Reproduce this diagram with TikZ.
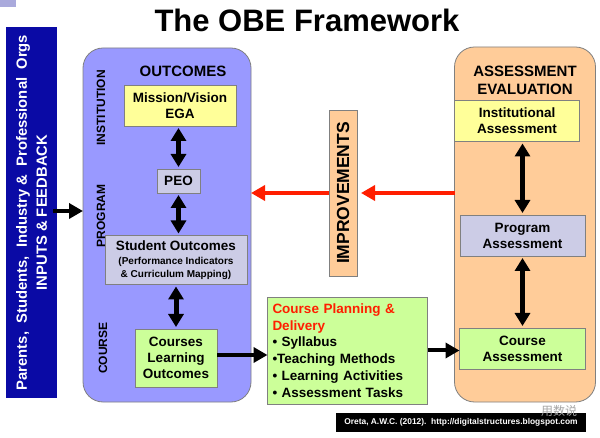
\documentclass[tikz,border=0pt]{standalone}
\usepackage{fontspec}
\setmainfont{Liberation Sans}
\newfontfamily\cjkfont{Noto Sans CJK SC}
\usetikzlibrary{arrows.meta,positioning}

\definecolor{barblue}{RGB}{10,10,165}
\definecolor{outlav}{RGB}{153,153,255}
\definecolor{peach}{RGB}{255,204,153}
\definecolor{paleyellow}{RGB}{255,255,153}
\definecolor{greylav}{RGB}{204,204,230}
\definecolor{palegreen}{RGB}{204,255,153}
\definecolor{planred}{RGB}{255,30,0}
\definecolor{cornerlav}{RGB}{170,170,220}

\begin{document}
\begin{tikzpicture}[x=1pt,y=-1pt,
  panel/.style={draw=black!50, line width=0.8pt, rounded corners=20pt, outer sep=0pt},
  box/.style={draw=black!50, line width=0.8pt, align=center, inner sep=1pt, outer sep=0pt,
    font=\fontsize{13.5}{16}\selectfont\bfseries},
  head/.style={align=center, font=\fontsize{15}{18}\selectfont\bfseries},
  vlabel/.style={rotate=90, font=\fontsize{12}{14}\selectfont\bfseries},
  twoway/.style={{Triangle[length=13pt,width=15pt]}-{Triangle[length=13pt,width=15pt]},
    line width=5pt, shorten <=2pt, shorten >=2pt},
  oneway/.style={-{Triangle[length=14pt,width=15pt]}, line width=4pt}]
  \useasboundingbox (0,0) rectangle (600,438);
  \fill[white] (0,0) rectangle (600,438);
  \fill[cornerlav] (0,0) rectangle (16,7);

  % title
  \node[font=\fontsize{31}{34}\selectfont\bfseries] (title) at (307,20) {The OBE Framework};

  % inputs bar
  \node[fill=barblue, minimum width=51, minimum height=371, outer sep=0pt] (bar) at (31.5,212.5) {};
  \node[rotate=90, text=white, align=center, font=\fontsize{14.8}{20}\selectfont\bfseries] (inputs)
    at (bar.center) {Parents, \ Students, \ Industry \& \ Professional \ Orgs\\INPUTS \& FEEDBACK};

  % outcomes panel
  \node[panel, fill=outlav, minimum width=168, minimum height=354] (outpanel) at (167,225) {};
  \node[head] (outhead) at (183,71) {OUTCOMES};
  \node[vlabel] (inst) at (101,108) {INSTITUTION};
  \node[vlabel] (prog) at (101,216) {PROGRAM};
  \node[vlabel] (crs) at (103,348) {COURSE};
  \node[box, fill=paleyellow, minimum width=112, minimum height=41] (mission) at (180,105.5) {Mission/Vision\\EGA};
  \node[box, fill=greylav, minimum width=43, minimum height=24] (peo) at (178.5,181) {PEO};
  \node[box, fill=greylav, minimum width=142, minimum height=49] (so) at (176,260)
    {Student Outcomes\\[-2pt]{\fontsize{10}{12}\selectfont (Performance Indicators}\\[-3pt]{\fontsize{10}{12}\selectfont \& Curriculum Mapping)}};
  \node[box, fill=palegreen, minimum width=82, minimum height=58] (clo) at (176,358) {Courses\\Learning\\Outcomes};

  % course planning
  \node[box, fill=palegreen, align=left, text width=150, inner xsep=5pt, minimum height=107,
    font=\fontsize{13.5}{16.7}\selectfont\bfseries] (cp) at (347.5,350.5)
    {\textcolor{planred}{Course Planning \&}\\\textcolor{planred}{Delivery}\\• Syllabus\\•Teaching Methods\\• Learning Activities\\• Assessment Tasks};

  % improvements
  \node[box, fill=peach, minimum width=28, minimum height=166] (impr) at (343,193) {};
  \node[rotate=90, font=\fontsize{17.5}{19}\selectfont\bfseries] (imprlabel) at (impr.center) {IMPROVEMENTS};

  % assessment panel
  \node[panel, fill=peach, minimum width=141, minimum height=355] (asspanel) at (525,224.5) {};
  \node[head] (asshead) at (525,80) {ASSESSMENT\\EVALUATION};
  \node[box, fill=paleyellow, minimum width=125, minimum height=41] (ia) at (517,121) {Institutional\\Assessment};
  \node[box, fill=greylav, minimum width=125, minimum height=41] (pa) at (522.5,235.5) {Program\\Assessment};
  \node[box, fill=palegreen, minimum width=126, minimum height=41] (ca) at (522.5,348.5) {Course\\Assessment};

  % connectors
  \coordinate (feed) at (53,211);
  \draw[oneway] (feed) -- (feed -| outpanel.west);
  \draw[twoway] (peo.north |- mission.south) -- (peo.north);
  \draw[twoway] (peo.south) -- (peo.south |- so.north);
  \draw[twoway] (clo.north |- so.south) -- (clo.north);
  \draw[oneway] ([yshift=3pt]clo.east) -- ([yshift=3pt]clo.east -| cp.west);
  \draw[oneway] (cp.east) -- (cp.east -| ca.west);
  \draw[twoway] (pa.north |- ia.south) -- (pa.north);
  \draw[twoway] (pa.south) -- (ca.north);
  \draw[oneway, planred, shorten >=4pt] (impr.east -| asspanel.west) -- (impr.east);
  \draw[oneway, planred] (impr.west) -- (impr.west -| outpanel.east);

  % credit line
  \node[fill=black, text=white, minimum width=250, minimum height=19, inner sep=0pt,
    font=\fontsize{8.4}{9}\selectfont\bfseries] (credit) at (461,422.5)
    {Oreta, A.W.C. (2012).\ \ http://digitalstructures.blogspot.com};
  \node[text=black!35, font=\cjkfont\fontsize{12}{12}\selectfont] (mark) at (559,411) {用数说};
\end{tikzpicture}
\end{document}
